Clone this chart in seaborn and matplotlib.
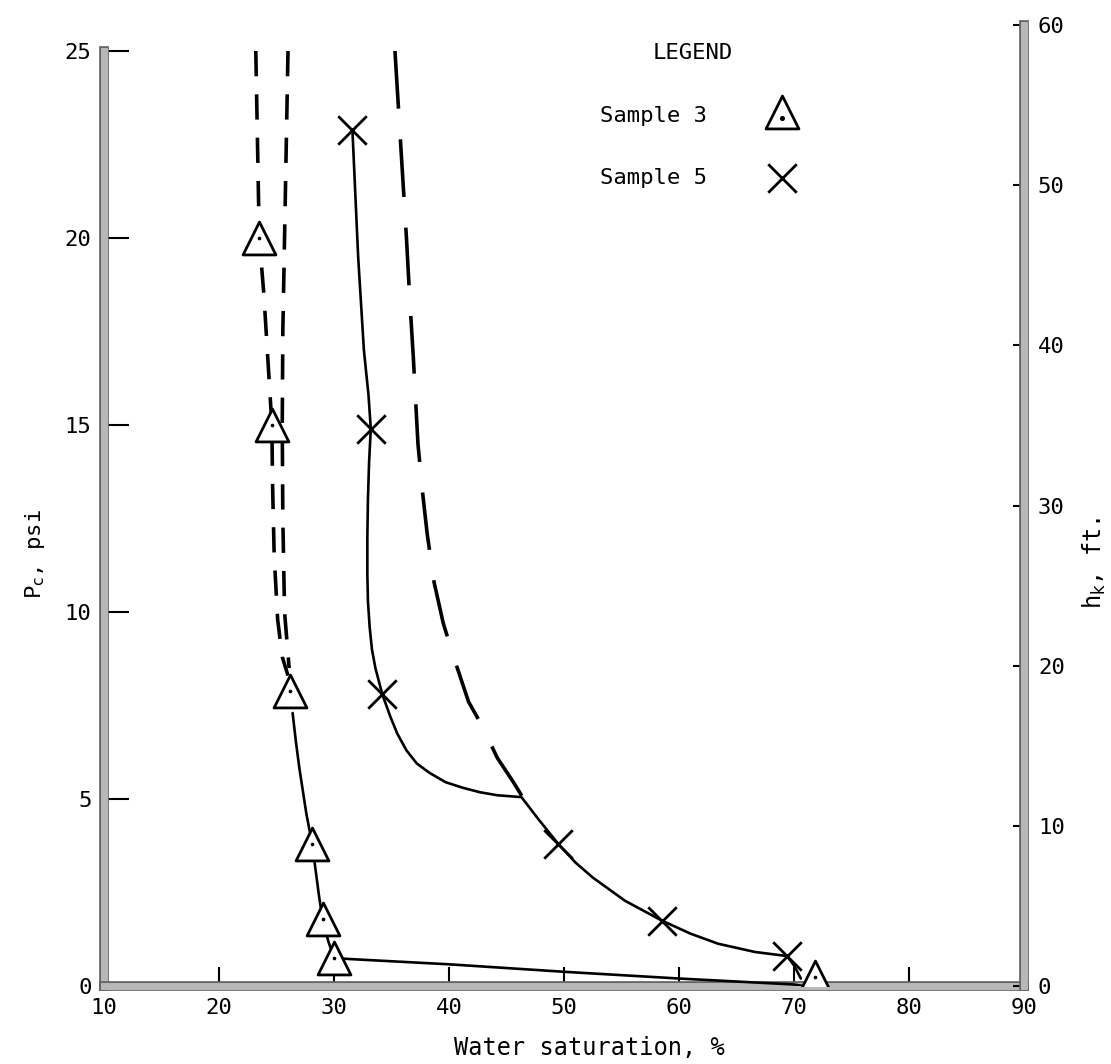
import matplotlib
matplotlib.use("Agg")
import matplotlib.pyplot as plt
import matplotlib.patheffects as pe
import seaborn as sns

# ---------------- data ----------------
# measured points
s3_sw = [23.5, 24.6, 26.2, 28.1, 29.0, 30.0, 71.8]
s3_pc = [20.0, 15.0, 7.9, 3.8, 1.8, 0.75, 0.25]
s5_sw = [31.6, 33.2, 34.2, 49.5, 58.5, 69.4]
s5_pc = [22.9, 14.9, 7.8, 3.8, 1.75, 0.8]

# hand-drawn curves
s3_dashA_sw = [23.2, 23.35, 23.5, 23.9, 24.3, 24.6, 24.65, 24.8, 25.1, 25.5, 26.0]
s3_dashA_pc = [25.0, 22.5, 20.0, 18.5, 16.5, 15.0, 13.5, 11.5, 9.8, 8.8, 8.3]
s3_dashB_sw = [26.0, 25.85, 25.7, 25.55, 25.5, 25.55, 25.7, 26.1]
s3_dashB_pc = [25.0, 22.5, 20.0, 17.5, 15.0, 12.5, 10.0, 8.5]
s3_solid_sw = [26.4, 26.7, 27.0, 27.3, 27.6, 28.1, 28.4, 28.7, 29.0, 29.5, 30.0,
               31.4, 40.0, 50.0, 60.0, 70.0, 70.8]
s3_solid_pc = [7.3, 6.5, 5.8, 5.2, 4.6, 3.8, 3.1, 2.4, 1.8, 1.2, 0.75,
               0.72, 0.58, 0.38, 0.2, 0.04, 0.0]
s5_solid_sw = [31.6, 32.1, 32.6, 33.0, 33.2, 33.05, 32.95, 32.9, 32.9, 32.95, 33.1,
               33.3, 33.6, 34.2, 34.9, 35.5, 36.3, 37.2, 38.3, 39.7, 41.2, 42.7,
               44.2, 46.3, 47.8, 49.5, 51.0, 52.5, 55.3, 58.5, 61.0, 63.4, 66.6,
               69.4, 70.0, 70.6]
s5_solid_pc = [22.9, 19.5, 17.0, 15.8, 14.9, 14.0, 13.0, 12.0, 11.0, 10.3, 9.6,
               9.0, 8.5, 7.8, 7.2, 6.75, 6.3, 5.95, 5.7, 5.45, 5.3, 5.18,
               5.1, 5.05, 4.45, 3.8, 3.3, 2.9, 2.28, 1.75, 1.4, 1.13, 0.91,
               0.8, 0.55, 0.2]
s5_dash_sw = [35.3, 35.6, 35.9, 36.3, 36.6, 36.9, 37.3, 37.7, 38.1, 38.7, 39.5, 40.4,
              41.7, 42.8, 44.2, 45.6, 46.4]
s5_dash_pc = [25.0, 23.5, 22.0, 20.0, 18.3, 16.8, 14.5, 13.2, 12.1, 10.8, 9.7, 8.8,
              7.6, 7.0, 6.1, 5.45, 5.05]

x_ticks = [10, 20, 30, 40, 50, 60, 70, 80, 90]
pc_ticks = [0, 5, 10, 15, 20, 25]
hk_ticks = [0, 10, 20, 30, 40, 50, 60]

# ---------------- style ----------------
sns.set_style("white")
plt.rcParams['font.family'] = ['DejaVu Sans Mono', 'DejaVu Sans']
plt.rcParams['mathtext.fontset'] = 'dejavusans'
plt.rcParams['text.color'] = 'black'
plt.rcParams['axes.labelcolor'] = 'black'
plt.rcParams['xtick.color'] = 'black'
plt.rcParams['ytick.color'] = 'black'
FS = 16

fig = plt.figure(figsize=(11.11, 10.64), dpi=100)
ax = fig.add_axes([104 / 1111, 1 - 986 / 1064, 920 / 1111, 961 / 1064])
ax2 = ax.twinx()

ax.set_xlim(10, 90)
ax.set_ylim(0, 25 * 961 / 935)
ax2.set_ylim(0, 60)

# ---------------- curves ----------------
def curve(xs, ys, lw, dashes=None):
    sns.lineplot(x=xs, y=ys, ax=ax, sort=False, estimator=None, color='black',
                 linewidth=lw, zorder=3)
    line = ax.lines[-1]
    line.set_solid_capstyle('round')
    line.set_solid_joinstyle('round')
    if dashes is not None:
        line.set_dashes(dashes)
        line.set_dash_capstyle('butt')

curve(s3_dashA_sw, s3_dashA_pc, 2.6, (7, 5))
curve(s3_dashB_sw, s3_dashB_pc, 2.6, (7, 5))
curve(s3_solid_sw, s3_solid_pc, 1.9)
curve(s5_solid_sw, s5_solid_pc, 1.9)
curve(s5_dash_sw, s5_dash_pc, 2.6, (16, 8.5))

# ---------------- markers ----------------
sns.scatterplot(x=s3_sw, y=s3_pc, ax=ax, marker='^', s=560, color='white',
                edgecolor='black', linewidth=2.0, zorder=5)
sns.scatterplot(x=s3_sw, y=s3_pc, ax=ax, marker='o', s=7, color='black',
                edgecolor='black', linewidth=0, zorder=6)
sns.scatterplot(x=s5_sw, y=s5_pc, ax=ax, marker='x', s=420, color='black',
                linewidth=2.0, zorder=5)

# ---------------- legend ----------------
ax.text(0.640, 0.971, "LEGEND", transform=ax.transAxes, ha='center', va='center',
        fontsize=FS)
ax.text(0.539, 0.905, "Sample 3", transform=ax.transAxes, ha='left', va='center',
        fontsize=FS)
ax.text(0.539, 0.841, "Sample 5", transform=ax.transAxes, ha='left', va='center',
        fontsize=FS)
ax.scatter([0.737], [0.909], transform=ax.transAxes, marker='^', s=560,
           facecolor='white', edgecolor='black', linewidth=2.0, zorder=5, clip_on=False)
ax.scatter([0.737], [0.903], transform=ax.transAxes, marker='o', s=7,
           color='black', zorder=6, clip_on=False)
ax.scatter([0.737], [0.841], transform=ax.transAxes, marker='x', s=420,
           color='black', linewidth=2.0, zorder=5, clip_on=False)

# ---------------- axes ----------------
for a in (ax, ax2):
    for s in a.spines.values():
        s.set_visible(False)

effects = [pe.Stroke(linewidth=7.0, foreground='#666666'), pe.Normal()]
for sp in (ax.spines['left'], ax.spines['bottom'], ax2.spines['right']):
    sp.set_visible(True)
    sp.set_linewidth(5.0)
    sp.set_color('#b8b8b8')
    sp.set_path_effects(effects)
ax.spines['left'].set_bounds(0, 25)

ax.set_xticks(x_ticks)
ax.set_xticklabels([str(v) for v in x_ticks], fontsize=FS)
ax.set_yticks(pc_ticks)
ax.set_yticklabels([str(v) for v in pc_ticks], fontsize=FS)
ax2.set_yticks(hk_ticks)
ax2.set_yticklabels([str(v) for v in hk_ticks], fontsize=FS)

ax.tick_params(axis='y', direction='in', length=18, width=1.5, color='black', pad=9,
               left=True, right=False, labelcolor='black')
ax.tick_params(axis='x', direction='in', length=14, width=1.5, color='black', pad=9,
               bottom=True, top=False, labelcolor='black')
ax2.tick_params(axis='y', direction='in', length=8, width=1.5, color='black', pad=10,
                right=True, left=False, labelcolor='black')

ax.set_xlabel("Water saturation, %", fontsize=FS + 1, color='black')
ax.xaxis.set_label_coords(0.528, -0.052)
ax.set_ylabel(r"P$_{\mathrm{c}}$, psi", fontsize=FS, color='black')
ax.yaxis.set_label_coords(-0.062, 0.45)
ax2.set_ylabel(r"h$_{\mathrm{k}}$, ft.", fontsize=FS + 1, rotation=90, color='black')
ax2.yaxis.set_label_coords(1.062, 0.44)

ax.set_facecolor('white')
fig.patch.set_facecolor('white')
fig.savefig("out.png", dpi=100, facecolor='white')
